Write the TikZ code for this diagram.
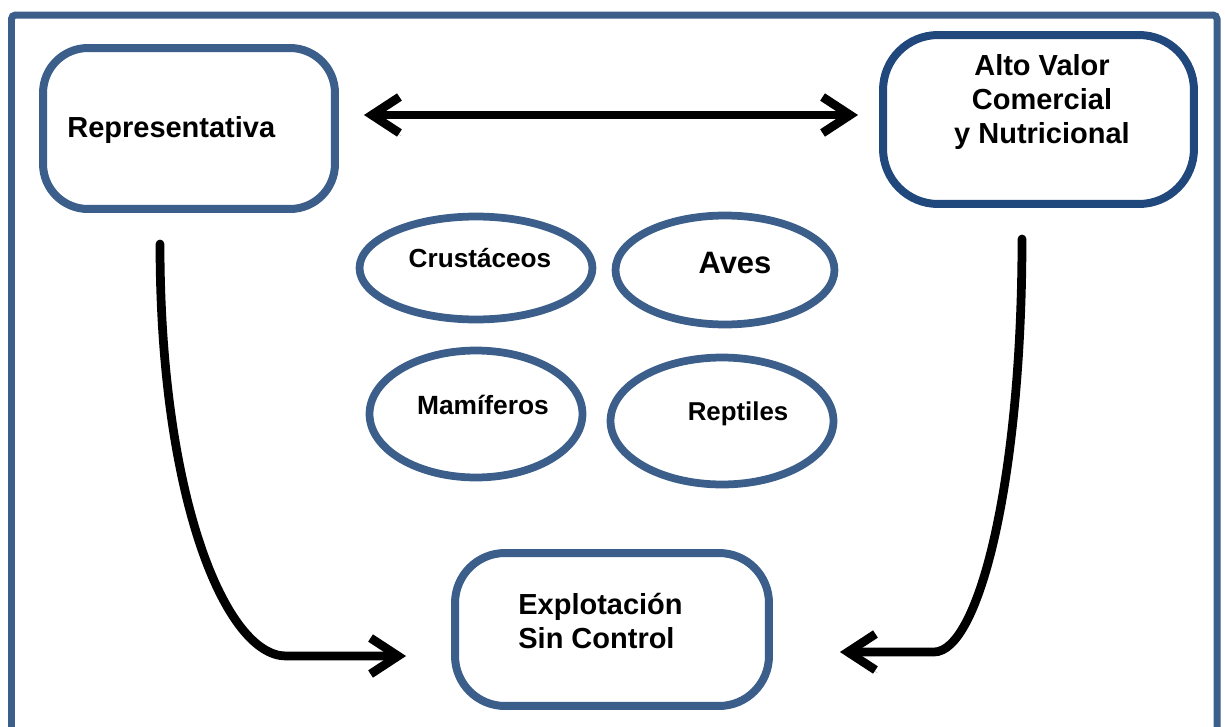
\documentclass[tikz,border=0pt]{standalone}
\usepackage{fontspec}
\setmainfont{Liberation Sans}
\usetikzlibrary{arrows.meta,shapes.geometric}
\definecolor{frameblue}{RGB}{59,94,139}
\definecolor{deepblue}{RGB}{33,72,124}

\begin{document}
\begin{tikzpicture}[x=0.02cm,y=-0.02cm,
    caja/.style={draw=frameblue,line width=0.16cm,fill=white},
    grupo/.style={draw=frameblue,ellipse,line width=0.155cm,inner sep=0pt},
    rotulo/.style={inner sep=0pt,align=center,font=\fontsize{16.5}{19.5}\selectfont\bfseries},
    flecha/.style={line width=0.175cm,line cap=round,>={Straight Barb[length=0.55cm,width=0.72cm]},
      preaction={draw=black!20,transform canvas={shift={(0.04cm,-0.06cm)}}}}]
    \useasboundingbox (0,0) rectangle (1225,727);
    \clip (0,0) rectangle (1225,727);
    \draw[frameblue,line width=0.14cm,rounded corners=0.08cm] (11.5,15) rectangle (1217,770);

    \node[caja,rounded corners=0.9cm,minimum width=5.84cm,minimum height=3.22cm] (repre) at (189,128.5) {};
    \node[caja,draw=deepblue,rounded corners=1.1cm,minimum width=6.22cm,minimum height=3.38cm] (alto) at (1038.5,119.5) {};
    \node[caja,rounded corners=1cm,minimum width=6.28cm,minimum height=3.06cm] (explo) at (612,629.5) {};

    \node[rotulo,anchor=base west] (repretxt) at (67,137) {Representativa};
    \node[rotulo] (altotxt) at (1042,102) {Alto Valor\\Comercial\\y Nutricional};
    \node[rotulo,anchor=west,align=left] (explotxt) at (518,621) {Explotación\\Sin Control};

    \node[grupo,minimum width=4.66cm,minimum height=2.06cm] (crus) at (476,268) {};
    \node[grupo,minimum width=4.38cm,minimum height=2.18cm] (aves) at (725,270) {};
    \node[grupo,minimum width=4.26cm,minimum height=2.54cm] (mami) at (476,414) {};
    \node[grupo,minimum width=4.46cm,minimum height=2.54cm] (rept) at (722,421) {};

    \node[rotulo,anchor=base,font=\fontsize{14.9}{17}\selectfont\bfseries] (crustxt) at (480,267) {Crustáceos};
    \node[rotulo,anchor=base,font=\fontsize{17.6}{20}\selectfont\bfseries] (avestxt) at (735,273) {Aves};
    \node[rotulo,anchor=base,font=\fontsize{15}{17}\selectfont\bfseries] (mamitxt) at (483,414) {Mamíferos};
    \node[rotulo,anchor=base,font=\fontsize{14.7}{17}\selectfont\bfseries] (repttxt) at (738,420) {Reptiles};

    \draw[flecha,<->] ([shift={(25,-13.5)}]repre.east) -- ([shift={(-21,-4.5)}]alto.west);
    \draw[flecha,->] ([shift={(-29,31)}]repre.south) .. controls +(0,255) and +(-60,0)
      .. ([shift={(-165,26.5)}]explo.west) -- ([shift={(-45,26.5)}]explo.west);
    \draw[flecha,->] ([shift={(-16.5,31)}]alto.south) .. controls +(0,240) and +(45,0)
      .. ([shift={(161,22.5)}]explo.east) -- ([shift={(67,22.5)}]explo.east);
\end{tikzpicture}
\end{document}
